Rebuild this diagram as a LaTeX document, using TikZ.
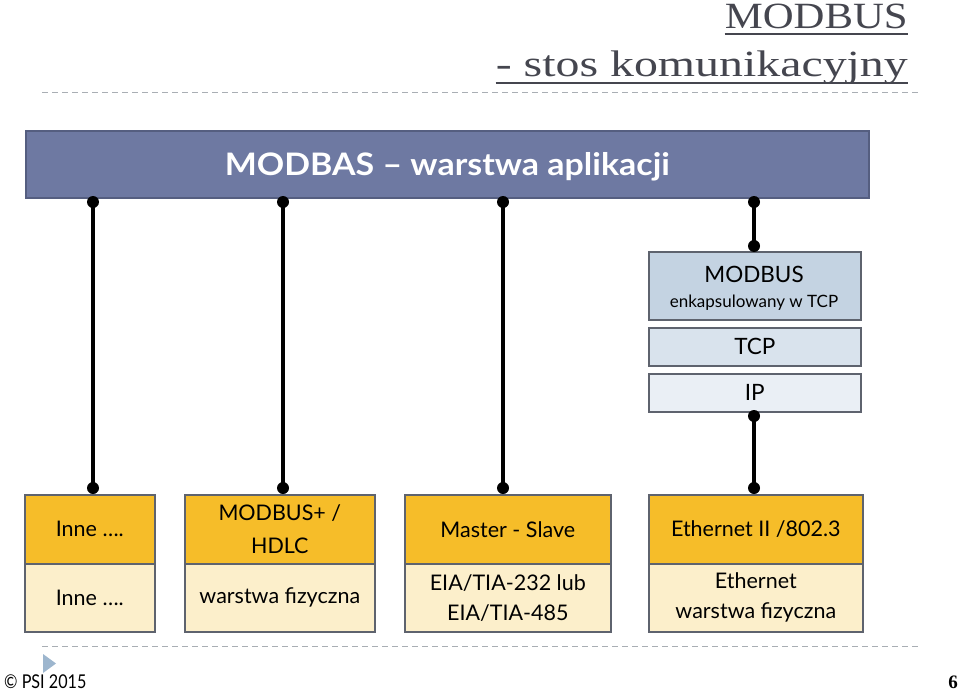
\documentclass[tikz,border=0pt]{standalone}
\usepackage{fontspec}
\setmainfont{Lato}
\newfontfamily\titlefont{Liberation Serif}
\definecolor{titlegray}{HTML}{45464F}
\definecolor{dashgray}{HTML}{A9AEB4}
\definecolor{appfill}{HTML}{6E79A2}
\definecolor{appline}{HTML}{555E80}
\definecolor{boxline}{HTML}{5E636E}
\definecolor{modfill}{HTML}{C4D3E2}
\definecolor{tcpfill}{HTML}{D9E3ED}
\definecolor{ipfill}{HTML}{EAEFF5}
\definecolor{upfill}{HTML}{F6BD29}
\definecolor{lowfill}{HTML}{FCEFCB}
\definecolor{trifill}{HTML}{9DB6CE}
\begin{document}
\begin{tikzpicture}[x=1pt,y=-1pt,
  box/.style={draw=boxline, line width=1.6pt, inner sep=0pt, anchor=north west, align=center, text=black},
  upbox/.style={box, fill=upfill, font=\fontsize{21.5}{33}\selectfont},
  lowbox/.style={box, fill=lowfill, font=\fontsize{21.5}{30}\selectfont},
  conn/.style={line width=4pt, black},
  dotc/.style={circle, fill=black, inner sep=0pt, minimum size=12pt},
  dashline/.style={dashgray, line width=1pt, dash pattern=on 6pt off 4pt},
  titletext/.style={anchor=base east, inner sep=0pt, text=titlegray, font=\titlefont\fontsize{37}{40}\selectfont},
]
\useasboundingbox (0,0) rectangle (960,693);

% title
\node[titletext] (t1) at (908,29) {\resizebox{183pt}{\height}{MODBUS}};
\node[titletext] (t2) at (908,77) {\resizebox{412pt}{\height}{- stos komunikacyjny}};
\draw[titlegray, line width=1.5pt] (t1.base west) ++(0,5) coordinate (u1a) -- (u1a -| t1.east);
\draw[titlegray, line width=1.5pt] (t2.base west) ++(0,6) coordinate (u2a) -- (u2a -| t2.east);
\coordinate (d1a) at (42,92);
\coordinate (d1b) at (918,92);
\draw[dashline] (d1a) -- (d1b);

% application layer
\node[draw=appline, line width=1.6pt, fill=appfill, anchor=north west, minimum width=843pt, minimum height=67pt, inner sep=0pt, text depth=0pt, text=white, font=\bfseries\fontsize{31}{36}\selectfont] (app) at (25,130) {\resizebox{445pt}{\height}{MODBAS – warstwa aplikacji}};

% right stack
\node[box, fill=modfill, minimum width=212pt, minimum height=68pt] (mod) at (648,251) {};
\node[anchor=base, inner sep=0pt, font=\fontsize{22.5}{26}\selectfont] (modt1) at (754,282) {MODBUS};
\node[anchor=base, inner sep=0pt, font=\fontsize{17}{20}\selectfont] (modt2) at (754,307) {enkapsulowany w TCP};
\node[box, fill=tcpfill, minimum width=212pt, minimum height=38pt, font=\fontsize{22.5}{26}\selectfont] (tcp) at (648,327) {TCP};
\node[box, fill=ipfill, minimum width=212pt, minimum height=38pt, font=\fontsize{22.5}{26}\selectfont] (ip) at (648,373) {IP};

% bottom boxes
\node[upbox, minimum width=130pt, minimum height=69pt] (u1) at (24,494) {Inne ….};
\node[lowbox, minimum width=130pt, minimum height=68pt] (l1) at (24,563) {Inne ….};
\node[upbox, minimum width=190pt, minimum height=69pt] (u2) at (184,494) {MODBUS+ /\\HDLC};
\node[lowbox, minimum width=190pt, minimum height=68pt] (l2) at (184,563) {warstwa fizyczna};
\node[upbox, minimum width=206pt, minimum height=69pt] (u3) at (404,494) {Master - Slave};
\node[lowbox, minimum width=206pt, minimum height=68pt] (l3) at (404,563) {EIA/TIA-232 lub\\EIA/TIA-485};
\node[upbox, minimum width=214pt, minimum height=69pt] (u4) at (648,494) {Ethernet II /802.3};
\node[lowbox, minimum width=214pt, minimum height=68pt] (l4) at (648,563) {Ethernet\\warstwa fizyczna};

% connectors
\coordinate (a1) at (93,202);   \coordinate (b1) at (93,488);
\coordinate (a2) at (283,202);  \coordinate (b2) at (283,488);
\coordinate (a3) at (503,202);  \coordinate (b3) at (503,488);
\coordinate (a4) at (754,202);  \coordinate (b4) at (754,246);
\coordinate (a5) at (754,416);  \coordinate (b5) at (754,488);
\foreach \p/\q in {a1/b1,a2/b2,a3/b3,a4/b4,a5/b5}{
  \draw[conn] (\p) -- (\q);
  \node[dotc] at (\p) {};
  \node[dotc] at (\q) {};
}

% footer
\coordinate (d2a) at (42,646);
\coordinate (d2b) at (918,646);
\draw[dashline] (d2a) -- (d2b);
\fill[trifill] (43,654) -- (56,663.5) -- (43,673) -- cycle;
\node[anchor=base west, inner sep=0pt, text=black, font=\fontsize{19}{22}\selectfont] (copy) at (4,688) {\scalebox{0.85}[1]{© PSI 2015}};
\node[anchor=base east, inner sep=0pt, text=black, font=\titlefont\bfseries\fontsize{19}{22}\selectfont] (page) at (958,688) {6};
\end{tikzpicture}
\end{document}
